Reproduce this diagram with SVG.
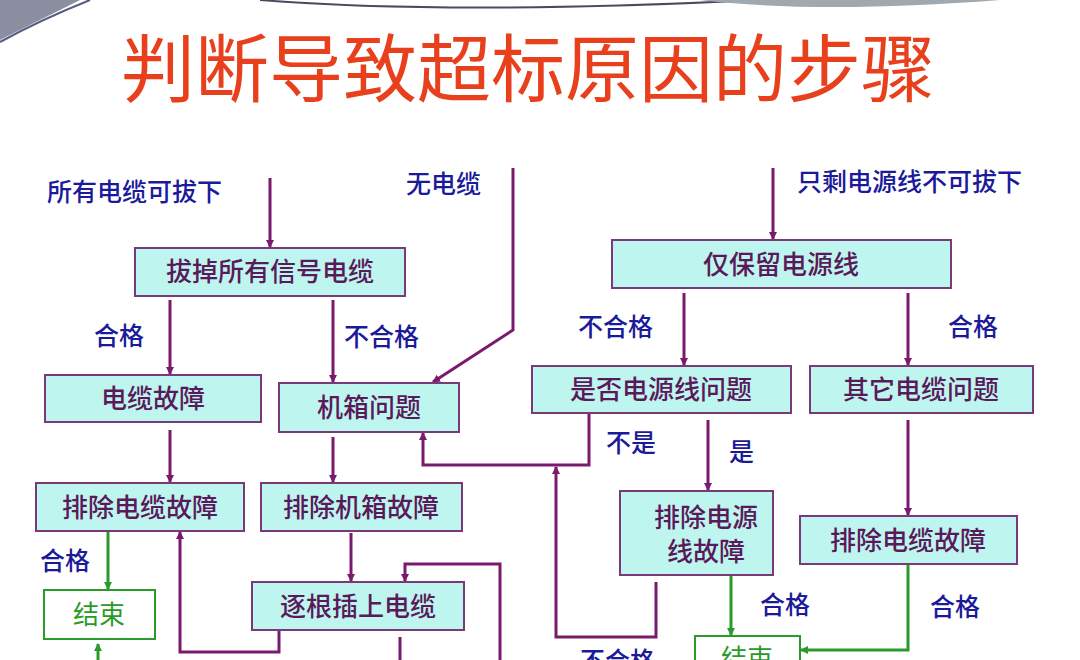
<svg xmlns="http://www.w3.org/2000/svg" width="1080" height="660" viewBox="0 0 1080 660">
<style>
.n rect{fill:#bff5ef;stroke:#7a3a7a;stroke-width:2}
.n text{font-family:"Noto Sans CJK SC",sans-serif;font-size:26px;fill:#5a1a5a;text-anchor:middle;font-weight:500}
.e rect{fill:#fff;stroke:#2a9a2a;stroke-width:2}
.e text{font-family:"Noto Sans CJK SC",sans-serif;font-size:26px;fill:#2a9a2a;text-anchor:middle}
.l{font-family:"Noto Sans CJK SC",sans-serif;font-size:25px;fill:#1a1a9a;font-weight:500}
.p{fill:none;stroke:#7a1a6e;stroke-width:3;marker-end:url(#ap)}
.q{fill:none;stroke:#7a1a6e;stroke-width:3}
.g{fill:none;stroke:#2a9a2a;stroke-width:3;marker-end:url(#ag)}
</style>
<defs>
<marker id="ap" markerWidth="8" markerHeight="8" refX="7" refY="4" orient="auto" markerUnits="userSpaceOnUse"><path d="M0,0 L8,4 L0,8 z" fill="#7a1a6e"/></marker>
<marker id="ag" markerWidth="8" markerHeight="8" refX="7" refY="4" orient="auto" markerUnits="userSpaceOnUse"><path d="M0,0 L8,4 L0,8 z" fill="#2a9a2a"/></marker>
</defs>
<rect width="1080" height="660" fill="#fff"/>
<path d="M0,0 L80,0 Q40,20 0,40 z" fill="#8a8ea0"/>
<path d="M0,42 Q40,20 90,0" fill="none" stroke="#5a5a80" stroke-width="2"/>
<path d="M260,0 Q450,15 760,0" fill="none" stroke="#4a4a60" stroke-width="2"/>
<path d="M700,0 Q820,14 1000,0 z" fill="#a0a8b0"/>
<text x="528" y="96" font-family="Noto Sans CJK SC,sans-serif" font-size="74" fill="#e8401c" text-anchor="middle">判断导致超标原因的步骤</text>
<g id="labels">
<text class="l" x="47" y="201">所有电缆可拔下</text>
<text class="l" x="406" y="193">无电缆</text>
<text class="l" x="797" y="191">只剩电源线不可拔下</text>
<text class="l" x="94" y="345">合格</text>
<text class="l" x="344" y="346">不合格</text>
<text class="l" x="578" y="336">不合格</text>
<text class="l" x="948" y="336">合格</text>
<text class="l" x="606" y="452">不是</text>
<text class="l" x="729" y="461">是</text>
<text class="l" x="40" y="570">合格</text>
<text class="l" x="760" y="614">合格</text>
<text class="l" x="930" y="616">合格</text>
<text class="l" x="580" y="670">不合格</text>
</g>
<g id="connectors">
<path class="p" d="M270,178 V247"/>
<path class="p" d="M513,168 V330 L433,382"/>
<path class="p" d="M773,168 V239"/>
<path class="p" d="M170,300 V374"/>
<path class="p" d="M333,300 V382"/>
<path class="p" d="M684,293 V365"/>
<path class="p" d="M908,293 V365"/>
<path class="p" d="M170,430 V482"/>
<path class="p" d="M333,437 V482"/>
<path class="p" d="M589,413 V465 H423 V433"/>
<path class="p" d="M708,420 V490"/>
<path class="p" d="M908,420 V515"/>
<path class="p" d="M351,533 V581"/>
<path class="p" d="M279,630 V652 H180 V532"/>
<path class="q" d="M400,637 V660"/>
<path class="p" d="M500,660 V564 H405 V581"/>
<path class="p" d="M656,582 V637 H556 V467"/>
<path class="g" d="M108,531 V589"/>
<path class="g" d="M98,660 V644"/>
<path class="g" d="M731,576 V635"/>
<path class="g" d="M908,565 V650 H801"/>
</g>
<g id="n1" class="n"><rect x="135" y="248" width="270" height="48"/><text x="270" y="281">拔掉所有信号电缆</text></g>
<g id="n2" class="n"><rect x="45" y="375" width="216" height="47"/><text x="153" y="408">电缆故障</text></g>
<g id="n3" class="n"><rect x="279" y="383" width="180" height="49"/><text x="369" y="417">机箱问题</text></g>
<g id="n4" class="n"><rect x="612" y="240" width="339" height="48"/><text x="781" y="274">仅保留电源线</text></g>
<g id="n5" class="n"><rect x="532" y="366" width="259" height="47"/><text x="661" y="399">是否电源线问题</text></g>
<g id="n6" class="n"><rect x="810" y="366" width="223" height="47"/><text x="921" y="399">其它电缆问题</text></g>
<g id="n7" class="n"><rect x="36" y="483" width="208" height="48"/><text x="140" y="517">排除电缆故障</text></g>
<g id="n8" class="n"><rect x="261" y="483" width="201" height="48"/><text x="361" y="517">排除机箱故障</text></g>
<g id="n9" class="n"><rect x="252" y="582" width="212" height="48"/><text x="358" y="616">逐根插上电缆</text></g>
<g id="n10" class="n"><rect x="620" y="491" width="153" height="84"/><text x="706" y="527">排除电源</text><text x="706" y="561">线故障</text></g>
<g id="n11" class="n"><rect x="800" y="516" width="217" height="48"/><text x="908" y="550">排除电缆故障</text></g>
<g id="n12" class="e"><rect x="44" y="590" width="111" height="49"/><text x="99" y="624">结束</text></g>
<g id="n13" class="e"><rect x="695" y="636" width="105" height="40"/><text x="747" y="668">结束</text></g>
</svg>
